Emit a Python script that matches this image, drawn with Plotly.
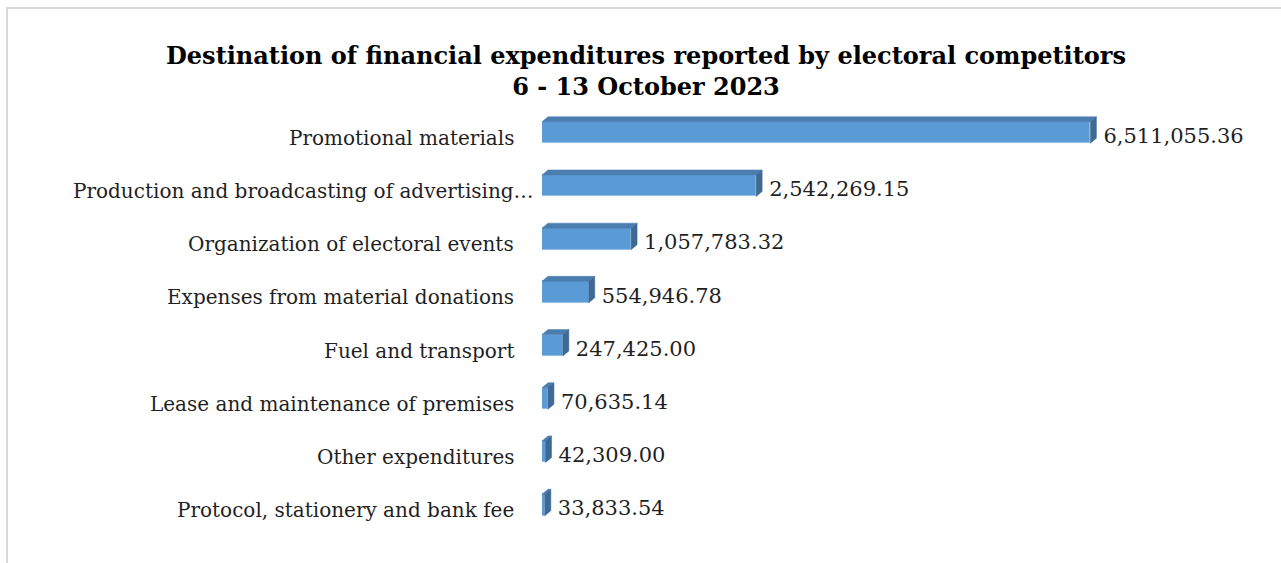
import plotly.graph_objects as go

# Expenditure categories and reported amounts
categories = [
    "Promotional materials",
    "Production and broadcasting of advertising…",
    "Organization of electoral events",
    "Expenses from material donations",
    "Fuel and transport",
    "Lease and maintenance of premises",
    "Other expenditures",
    "Protocol, stationery and bank fee",
]
amounts = [
    6511055.36,
    2542269.15,
    1057783.32,
    554946.78,
    247425.00,
    70635.14,
    42309.00,
    33833.54,
]

title_line1 = "Destination of financial expenditures reported by electoral competitors"
title_line2 = "6 - 13 October 2023"

# Figure / plot-area geometry in pixels
W, H = 1281, 563
PLOT_L, PLOT_R = 542, 1261
PLOT_T, PLOT_B = 100, 545
ROW_PX = 53.2            # distance between category rows
FIRST_ROW_PX = 132.5     # centre of first bar front face
BAR_PX = 21.5            # thickness of the front face
DEPTH_X, DEPTH_Y = 6.0, 5.0   # 3-D extrusion offsets
PX_PER_UNIT = 548.4 / 6511055.36
LABEL_RIGHT_PX = 516     # right edge of category labels
LABEL_LEFT_PX = 71       # left edge used by truncated labels
TEXT_DROP = 0.1          # labels sit slightly below the bar centre

plot_w = W - PLOT_L - (W - PLOT_R)
plot_h = PLOT_B - PLOT_T
x_max = plot_w / PX_PER_UNIT
y_top = -(FIRST_ROW_PX - PLOT_T) / ROW_PX
y_bottom = y_top + plot_h / ROW_PX

pos = list(range(len(categories)))
bar_w = BAR_PX / ROW_PX
dx = DEPTH_X / PX_PER_UNIT
dy = DEPTH_Y / ROW_PX

FRONT = "#5B9BD5"
TOP = "#4A7DB0"
SIDE = "#3E6994"
FONT = "DejaVu Serif"
TEXT = "#1F1F1F"

fig = go.Figure()

# front faces
fig.add_trace(go.Bar(
    x=amounts, y=pos, orientation="h", width=bar_w,
    marker=dict(color=FRONT, line=dict(color="#8DBBE6", width=0.8)),
    hoverinfo="skip", showlegend=False,
))

# top and side faces of the extruded bars
top_x, top_y, side_x, side_y = [], [], [], []
for p, v in zip(pos, amounts):
    yt = p - bar_w / 2
    yb = p + bar_w / 2
    top_x += [0, dx, v + dx, v, 0, None]
    top_y += [yt, yt - dy, yt - dy, yt, yt, None]
    side_x += [v, v + dx, v + dx, v, v, None]
    side_y += [yt, yt - dy, yb - dy, yb, yt, None]

fig.add_trace(go.Scatter(
    x=top_x, y=top_y, mode="lines", fill="toself", fillcolor=TOP,
    line=dict(width=0.5, color=TOP), hoverinfo="skip", showlegend=False,
))
fig.add_trace(go.Scatter(
    x=side_x, y=side_y, mode="lines", fill="toself", fillcolor=SIDE,
    line=dict(width=0.5, color=SIDE), hoverinfo="skip", showlegend=False,
))

# value labels
gap = 7 / PX_PER_UNIT
fig.add_trace(go.Scatter(
    x=[v + dx + gap for v in amounts], y=[p + TEXT_DROP for p in pos],
    mode="text", text=[f"{v:,.2f}" for v in amounts],
    textposition="middle right",
    textfont=dict(family=FONT, size=21, color=TEXT),
    hoverinfo="skip", showlegend=False, cliponaxis=False,
))

# category labels (truncated ones start at the left edge)
for p, name in zip(pos, categories):
    if name.endswith("…"):
        ax_x, anchor = (LABEL_LEFT_PX - PLOT_L) / plot_w, "left"
    else:
        ax_x, anchor = (LABEL_RIGHT_PX - PLOT_L) / plot_w, "right"
    fig.add_annotation(
        x=ax_x, xref="paper", y=p + TEXT_DROP, yref="y",
        text=name, showarrow=False, xanchor=anchor, yanchor="middle",
        font=dict(family=FONT, size=20, color=TEXT),
    )

# outer chart frame
fx0 = (7 - PLOT_L) / plot_w
fy1 = (H - 8 - (H - PLOT_B)) / plot_h
fig.add_shape(type="rect", xref="paper", yref="paper",
              x0=fx0, x1=1.2, y0=-0.5, y1=fy1,
              line=dict(color="#D9D9D9", width=2), layer="below")

fig.update_layout(
    width=W, height=H,
    margin=dict(l=PLOT_L, r=W - PLOT_R, t=PLOT_T, b=H - PLOT_B),
    paper_bgcolor="white", plot_bgcolor="white",
    title=dict(
        text=f"<b>{title_line1}</b><br><b>{title_line2}</b>",
        x=646 / W, xanchor="center", y=1 - 64 / H, yanchor="middle",
        font=dict(family=FONT, size=24, color="#000000"),
    ),
    xaxis=dict(range=[0, x_max], visible=False, fixedrange=True),
    yaxis=dict(
        range=[y_bottom, y_top], visible=False,
        showgrid=False, zeroline=False, fixedrange=True,
    ),
    bargap=0,
)

fig.write_html("out.html")
